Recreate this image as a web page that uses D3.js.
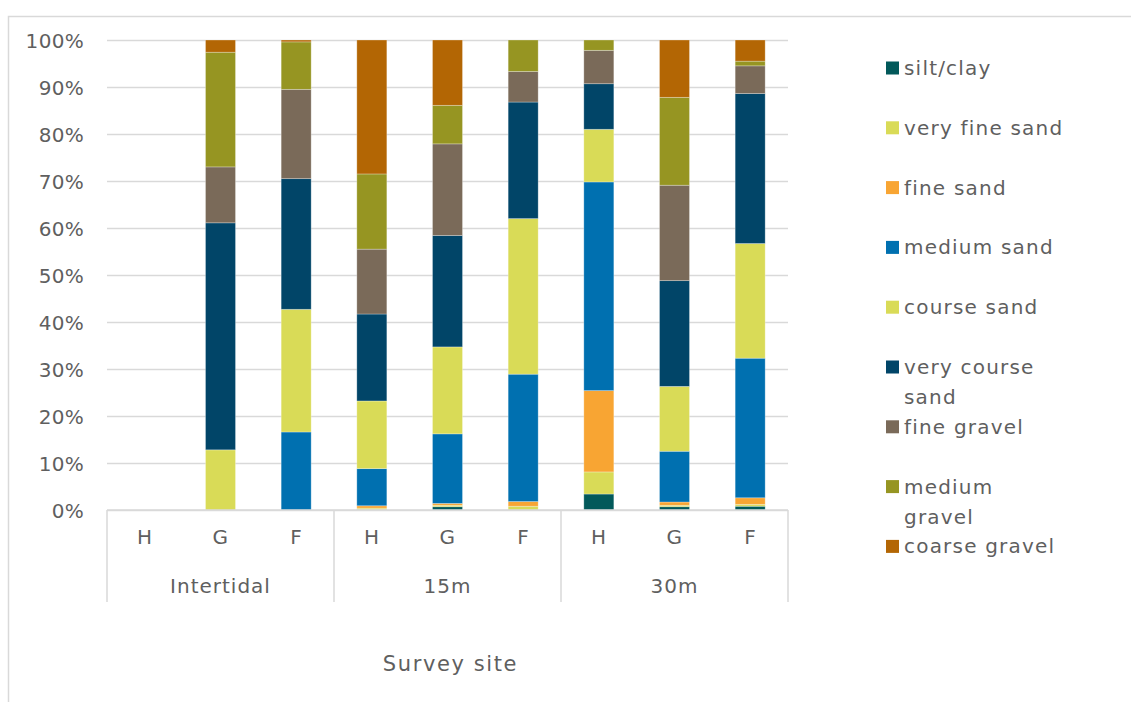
<!DOCTYPE html>
<html>
<head>
<meta charset="utf-8">
<script src="https://cdn.jsdelivr.net/npm/d3@7"></script>
<style>
  html, body { margin: 0; padding: 0; background: #fff; }
  svg { display: block; }
  text { font-family: "DejaVu Sans", sans-serif; fill: #5f5f5f; }
</style>
</head>
<body>
<svg id="chart" width="1131" height="702"></svg>
<script>
// Sites (grouped by depth) and their sample labels
const sites = ["H", "G", "F", "H", "G", "F", "H", "G", "F"];
const depths = ["Intertidal", "15m", "30m"];
const sitesPerDepth = 3;

// Grain-size fractions, bottom of the stack first
const fractions = ["silt/clay", "very fine sand", "fine sand", "medium sand", "course sand",
                   "very course sand", "fine gravel", "medium gravel", "coarse gravel"];

// Percentage of each fraction per site (Intertidal H,G,F | 15m H,G,F | 30m H,G,F)
const siltClay      = [0, 0,    0,    0.1,  0.7,  0,    3.4,  0.7,  0.8];
const veryFineSand  = [0, 0,    0,    0.3,  0.3,  0.8,  4.7,  0.3,  0.4];
const fineSand      = [0, 0,    0,    0.5,  0.4,  1.0,  17.3, 0.7,  1.4];
const mediumSand    = [0, 0,    16.6, 7.9,  14.8, 27.1, 44.4, 10.8, 29.7];
const courseSand    = [0, 12.8, 26.1, 14.4, 18.5, 33.1, 11.2, 13.8, 24.4];
const veryCourseSand= [0, 48.3, 27.8, 18.5, 23.7, 24.8, 9.7,  22.5, 31.9];
const fineGravel    = [0, 11.9, 19.0, 13.8, 19.5, 6.5,  7.1,  20.3, 5.9];
const mediumGravel  = [0, 24.4, 10.1, 16.0, 8.2,  6.7,  2.2,  18.7, 1.0];
const coarseGravel  = [0, 2.6,  0.4,  28.5, 13.9, 0,    0,    12.2, 4.5];

const yTicks = [0, 10, 20, 30, 40, 50, 60, 70, 80, 90, 100];

const colors = ["#02595a", "#d9db57", "#f8a533", "#0070b0", "#d9db57",
                "#014568", "#7a6a59", "#969522", "#b36604"];

const seriesValues = [siltClay, veryFineSand, fineSand, mediumSand, courseSand,
                      veryCourseSand, fineGravel, mediumGravel, coarseGravel];

// Row table for d3.stack
const rows = sites.map((s, i) => {
  const r = { idx: i };
  fractions.forEach((f, k) => { r[f] = seriesValues[k][i]; });
  return r;
});

const svg = d3.select("#chart");

// Outer chart frame
svg.append("path")
  .attr("d", "M8.5,702 V16.5 H1131")
  .attr("fill", "none")
  .attr("stroke", "#d9d9d9")
  .attr("stroke-width", 1.5);

const plot = { left: 107, right: 788, top: 40, bottom: 510 };

const x = d3.scaleBand()
  .domain(d3.range(sites.length))
  .range([plot.left, plot.right])
  .paddingInner(0.6035)
  .paddingOuter(0.30175);

const y = d3.scaleLinear().domain([0, 100]).range([plot.bottom, plot.top]);

// Horizontal gridlines + tick labels
const yAxis = svg.append("g")
  .attr("transform", `translate(${plot.left},0)`)
  .call(d3.axisLeft(y)
    .tickValues(yTicks)
    .tickSize(-(plot.right - plot.left))
    .tickPadding(23)
    .tickFormat(d => d + "%"));
yAxis.select(".domain").remove();
yAxis.selectAll(".tick line").attr("stroke", "#d9d9d9").attr("stroke-width", 1.5);
yAxis.selectAll(".tick text")
  .style("font-size", "20px")
  .attr("letter-spacing", "0.3px")
  .attr("dy", "0.35em");

// Stacked bars
const stack = d3.stack().keys(fractions);
const layers = stack(rows);

svg.append("g").selectAll("g")
  .data(layers)
  .join("g")
  .attr("fill", (d, i) => colors[i])
  .selectAll("rect")
  .data(d => d.filter(p => p[1] - p[0] > 0))
  .join("rect")
  .attr("x", d => x(d.data.idx))
  .attr("width", x.bandwidth())
  .attr("y", d => y(d[1]))
  .attr("height", d => y(d[0]) - y(d[1]))
  .attr("stroke", "rgba(255,255,255,0.35)")
  .attr("stroke-width", 0.8);

// Category axis: base line, depth separators, site and depth labels
const axisG = svg.append("g").attr("stroke", "#d9d9d9").attr("stroke-width", 1.5);
axisG.append("line")
  .attr("x1", plot.left).attr("x2", plot.right)
  .attr("y1", plot.bottom).attr("y2", plot.bottom);

const step = x.step();
const groupEdges = d3.range(depths.length + 1).map(g =>
  g < depths.length ? x(g * sitesPerDepth) - x.paddingOuter() * step
                    : x(sites.length - 1) + x.bandwidth() + x.paddingOuter() * step);
axisG.selectAll("line.sep")
  .data(groupEdges)
  .join("line")
  .attr("class", "sep")
  .attr("x1", d => d).attr("x2", d => d)
  .attr("y1", plot.bottom).attr("y2", 602);

const xAxis = svg.append("g")
  .attr("transform", `translate(0,${plot.bottom})`)
  .call(d3.axisBottom(x).tickSize(0).tickPadding(20).tickFormat(i => sites[i]));
xAxis.select(".domain").remove();
xAxis.selectAll(".tick text")
  .style("font-size", "20px")
  .attr("letter-spacing", "0.5px");

svg.append("g").selectAll("text")
  .data(depths)
  .join("text")
  .attr("x", (d, g) => (groupEdges[g] + groupEdges[g + 1]) / 2)
  .attr("y", 593)
  .attr("text-anchor", "middle")
  .style("font-size", "20px")
  .attr("letter-spacing", "1px")
  .text(d => d);

// Axis title
svg.append("text")
  .attr("x", (plot.left + plot.right) / 2 + 3)
  .attr("y", 671)
  .attr("text-anchor", "middle")
  .style("font-size", "21px")
  .attr("letter-spacing", "1.6px")
  .text("Survey site");

// Legend (top entry = first fraction), long names wrap onto two lines
const legendLines = {
  "very course sand": ["very course", "sand"],
  "medium gravel": ["medium", "gravel"]
};
const legend = svg.append("g");
const item = legend.selectAll("g")
  .data(fractions)
  .join("g")
  .attr("transform", (d, i) => `translate(886,${68 + i * 59.8})`);
item.append("rect")
  .attr("x", 0).attr("y", -6.5)
  .attr("width", 13).attr("height", 13)
  .attr("fill", (d, i) => colors[i]);
item.each(function(d) {
  const lines = legendLines[d] || [d];
  const t = d3.select(this).append("text")
    .attr("x", 18)
    .attr("y", 0)
    .style("font-size", "20px")
    .attr("letter-spacing", "1.2px");
  lines.forEach((ln, j) => {
    t.append("tspan").attr("x", 18).attr("dy", j === 0 ? "0.35em" : "30px").text(ln);
  });
});
</script>
</body>
</html>
